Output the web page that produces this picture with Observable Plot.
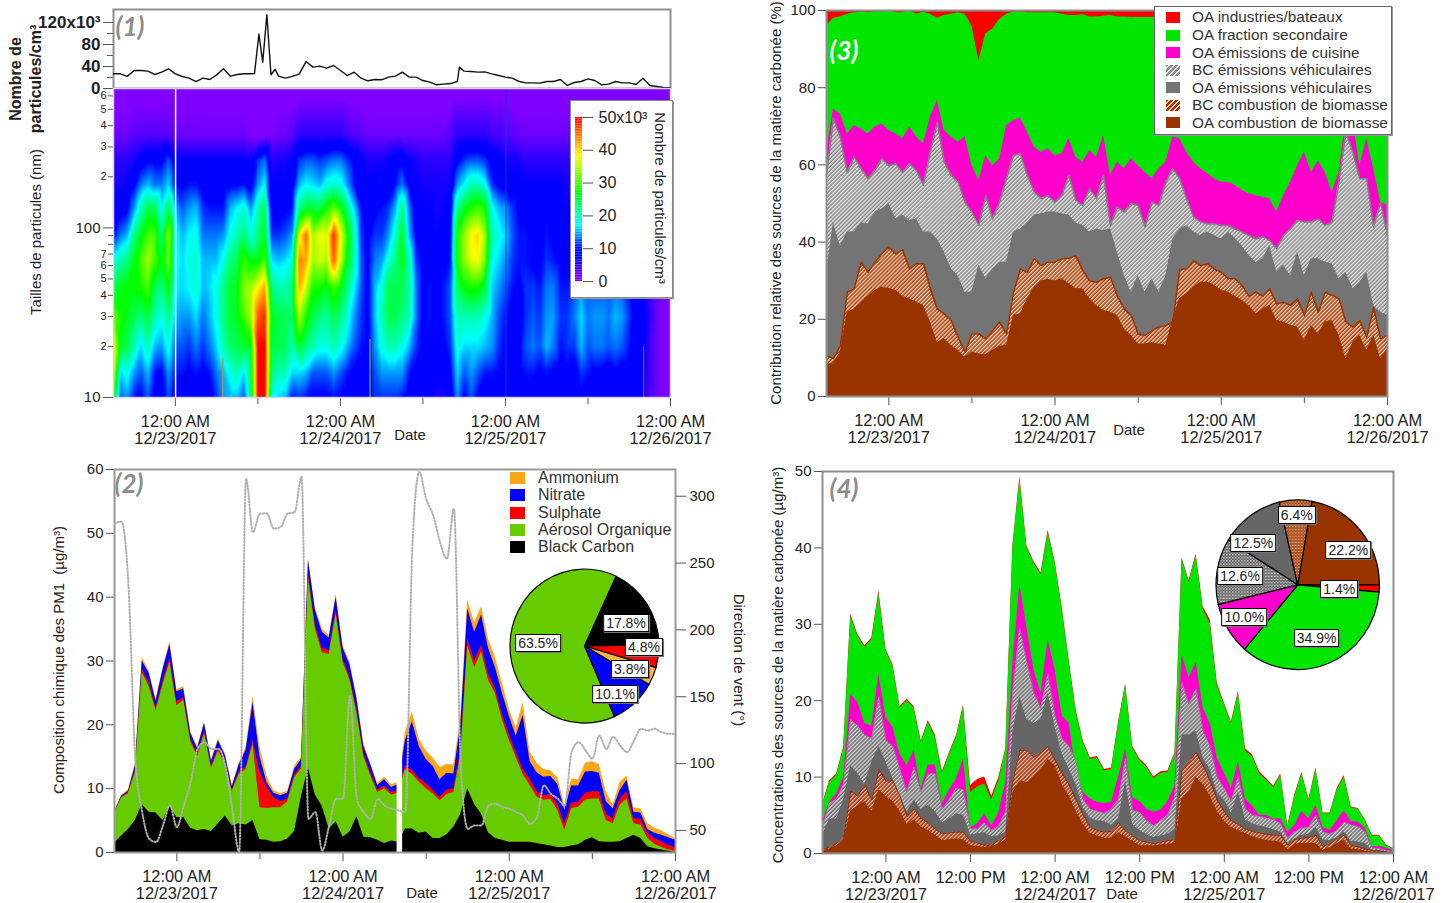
<!DOCTYPE html>
<html lang="fr"><head><meta charset="utf-8">
<script src="https://cdn.jsdelivr.net/npm/d3@7"></script>
<script src="https://cdn.jsdelivr.net/npm/@observablehq/plot@0.6"></script>
<style>
html,body{margin:0;padding:0;background:#fff;overflow:hidden}
#page{position:relative;width:1442px;height:903px;overflow:hidden;background:#fff;font-family:"Liberation Sans",Arial,sans-serif}
#page svg{position:absolute;max-width:none;overflow:visible}
.t{position:absolute;white-space:pre;line-height:1;transform-origin:center}
.box{position:absolute;background:#fff;border:1px solid #000;box-shadow:1px 1px 0 #777;padding:1px 2px;font-size:14px;line-height:1;color:#222;transform:translate(-50%,-50%)}
.sw{position:absolute}
</style></head><body><div id="page">
<svg width="0" height="0"><defs>
<pattern id="hGray" patternUnits="userSpaceOnUse" width="2.8" height="2.8" patternTransform="rotate(-45)"><rect width="3" height="3" fill="#808080"/><rect width="3" height="1.3" fill="#f4f4f4"/></pattern>
<pattern id="hBrown" patternUnits="userSpaceOnUse" width="2.8" height="2.8" patternTransform="rotate(-45)"><rect width="3" height="3" fill="#a03a08"/><rect width="3" height="1.3" fill="#f8dcc6"/></pattern>
<pattern id="hGray4" patternUnits="userSpaceOnUse" width="2.8" height="2.8" patternTransform="rotate(-45)"><rect width="3" height="3" fill="#6a6a6a"/><rect width="3" height="1.2" fill="#e6e6e6"/></pattern>
<pattern id="hBrown4" patternUnits="userSpaceOnUse" width="2.8" height="2.8" patternTransform="rotate(-45)"><rect width="3" height="3" fill="#993300"/><rect width="3" height="1.2" fill="#f0c4c0"/></pattern>
<pattern id="dGray" patternUnits="userSpaceOnUse" width="3" height="3"><rect width="3" height="3" fill="#5a5a5a"/><circle cx="1" cy="1" r=".8" fill="#fff"/><circle cx="2.5" cy="2.5" r=".5" fill="#ddd"/></pattern>
<pattern id="dBrown" patternUnits="userSpaceOnUse" width="3" height="3"><rect width="3" height="3" fill="#a8420c"/><circle cx="1" cy="1" r=".7" fill="#fff"/><circle cx="2.5" cy="2.5" r=".4" fill="#f2d0b0"/></pattern>
</defs></svg>
</div>
<script>
// ---------- time base: hours since 12/22/2017 15:00 ----------
const HOUR_COUNT = 82;
const startMs = Date.UTC(2017, 11, 22, 15);
const midnights = [9, 33, 57, 81];
const noons = [21, 45, 69];
const midLabels = {9:"12/23/2017", 33:"12/24/2017", 57:"12/25/2017", 81:"12/26/2017"};

// ---------- panel 1: total number (x10^3 /cm3) ----------
const p1Hours = [0,1,2,3,4,5,6,7,8,9,10,11,12,13,14,15,16,17,18,19,20,20.5,21.15,21.7,22.3,22.9,23.5,24,25,26,27,28,29,30,31,32,33,34,35,36,37,38,39,40,41,42,43,44,45,46,47,48,49,50,50.3,51,52,53,54,55,56,57,58,59,60,61,62,63,64,65,66,67,68,69,70,71,72,73,74,75,76,77,78,79,80,81];
const p1Number = [26.7,26.7,22,32.7,32.7,31.5,25.5,29.7,35.8,26.7,21.8,18.8,12.7,18.8,16.4,24.8,35.8,22.4,25.5,26.7,26.7,27,99,48,134,25,35,22.4,18.8,22,26,49,38.8,40.6,37,41.8,32.7,23.6,29.7,18.8,14,16.4,15.8,20.6,22.4,29.7,20.6,20.6,14.5,11.5,6.7,7.9,9,12.7,38.8,31.5,31,29.7,30.3,26.7,23.6,20.6,18.8,12.7,10.3,10.3,9.7,12.7,12.7,16.4,5.5,10.9,12.7,17.6,14.5,6.7,7.9,12.7,10.3,10.3,7.3,18.8,5.5,3.6,1.8,1.2];

// ---------- panel 1: size distribution, one array per particle size (x10^3 /cm3) ----------
const heatSizes = [10,14,20,30,45,65,90,130,180,250,350,663];
const heat10  = [28,12,14,10,9,12,8,8,12,8, 8,8,8,7,8,11,14,15,15,12, 22,50,50,18,16,15,10,11,10,9, 9,9,10,9,8,8,8,8,11,11, 11,11,10,8,7,7,7,6,6,7, 14,9,12,9,8,8,8,8,7,8, 8,8,7,8,7,7,7,7,9,8, 8,7,7,7,7,7,7,7,3,2, 1,1];
const heat14  = [36,16,18,14,12,15,10,9,14,10, 10,9,10,9,10,13,15,18,20,16, 24,50,50,22,20,20,16,16,15,12, 12,12,14,12,10,9,9,8,12,14, 14,14,14,10,9,8,8,7,7,9, 16,12,14,12,10,10,9,9,8,9, 10,10,9,10,9,8,9,8,11,10, 9,9,8,9,8,8,7,7,4,2, 1,1];
const heat20  = [38,26,24,20,16,20,15,14,18,12, 12,11,13,11,13,16,20,23,24,25, 26,50,50,24,24,24,20,25,22,20, 18,18,20,18,15,12,10,9,14,18, 20,20,18,15,11,9,9,8,9,11, 18,16,16,16,15,14,11,9,9,9, 12,13,12,15,13,10,11,11,15,12, 13,13,12,13,12,10,8,8,4,2, 1,1];
const heat30  = [32,28,26,24,22,25,20,18,22,15, 14,14,16,13,15,18,22,25,26,30, 34,46,48,26,24,24,23,34,28,24, 22,21,24,22,18,14,11,9,15,20, 24,24,22,20,13,9,10,9,10,12, 20,20,20,20,18,15,12,10,9,8, 11,12,11,14,14,11,11,13,16,13, 14,14,13,15,14,11,8,8,5,2, 1,1];
const heat45  = [24,26,27,27,28,30,24,22,27,17, 16,17,19,15,16,18,22,25,26,33, 34,38,42,22,20,20,22,42,36,28, 28,26,30,27,22,17,12,9,15,18, 24,24,24,21,13,9,10,9,10,12, 24,27,28,28,25,16,14,12,10,9, 11,11,10,13,13,10,10,12,14,12, 12,12,12,13,12,10,8,7,4,2, 1,1];
const heat65  = [18,20,22,26,30,34,30,26,32,18, 16,18,19,15,15,15,18,22,24,29, 26,26,30,16,15,16,18,44,42,34, 36,34,46,36,26,20,12,9,13,14, 18,22,27,20,11,9,9,8,9,10, 28,33,37,38,32,18,16,14,11,10, 10,9,9,11,10,9,9,9,10,9, 10,9,9,9,9,8,7,7,4,2, 1,1];
const heat90  = [10,13,15,22,26,30,30,22,34,18, 15,17,18,13,13,13,14,18,20,23, 18,22,26,11,11,12,14,38,45,34, 38,36,48,38,28,20,11,9,11,11, 14,19,26,15,9,8,8,7,8,9, 28,33,38,40,34,20,18,16,12,10, 10,9,9,10,9,8,8,8,8,8, 8,7,7,7,7,7,6,6,4,2, 1,1];
const heat130 = [7,8,9,14,20,24,24,17,24,15, 12,14,15,11,10,10,10,15,17,19, 14,20,24,8,8,9,10,22,25,25, 24,28,32,28,22,16,10,8,9,10, 11,15,22,13,8,7,7,6,7,8, 22,26,28,30,28,18,15,14,11,9, 8,8,8,9,8,7,7,7,7,7, 7,7,6,6,6,6,5,5,3,2, 1,1];
const heat180 = [6,6,7,9,13,15,13,13,16,10, 9,10,10,8,8,8,8,9,9,10, 8,14,17,7,7,7,8,15,17,16, 15,18,19,18,14,10,8,7,8,8, 8,10,13,9,7,6,6,6,6,6, 14,17,20,20,18,11,9,8,8,8, 7,7,7,7,7,7,6,6,6,6, 6,6,6,6,6,5,5,4,2,1, 1,0.5];
const heat250 = [5,5,5,6,8,9,9,9,12,8, 7,7,7,7,7,7,7,7,7,7, 7,11,13,5,6,6,7,11,12,12, 11,12,13,13,11,9,7,6,6,6, 7,8,9,7,6,5,5,5,5,5, 9,11,12,12,11,9,8,6,6,6, 5,5,5,5,5,5,5,5,5,5, 5,5,4,4,4,4,3,3,2,1, 0.5,0.5];
const heat350 = [2,2,2,3,3,3,3,3,3,2, 2,2,2,2,2,2,2,2,2,2, 1,0.5,0.5,1,2,2,3,5,5,5, 5,5,5,5,4,3,3,2,2,2, 2,2,2,2,2,2,2,2,2,3, 5,5,5,5,5,4,4,3,3,2, 2,2,2,2,2,2,2,2,2,2, 2,2,2,2,1,1,1,1,1,0, 0,0];
const heat663 = [0,0,0,0,0,0,0,0,0,0, 0,0,0,0,0,0,0,0,0,0, 0,0,0,0,0,0,0,0,0,0, 0,0,0,0,0,0,0,0,0,0, 0,0,0,0,0,0,0,0,0,0, 0,0,0,0,0,0,0,0,0,0, 0,0,0,0,0,0,0,0,0,0, 0,0,0,0,0,0,0,0,0,0, 0,0];
const heatRows = [heat10,heat14,heat20,heat30,heat45,heat65,heat90,heat130,heat180,heat250,heat350,heat663];
const missingHour = [9.03];
const blueLineHour = [57.07];
const streakHour = [15.9,37.3,77.1];
const streakTopSize = [17,22,20];
const streakColor = ["#d98a20","#70b040","#c04030"];
const rainbowStops = [0,1,7,9.5,17,27,38,50];
const rainbowColors = ["#8000ff","#8000ff","#0000ff","#0000ff","#00ffff","#00ff00","#ffff00","#ff0000"];
const heatMajorTicks = [10,100];
const heatMinorTicks = [20,30,40,50,60,70,200,300,400,500,600];
const heatBareTicks = [80,90];

// ---------- panel 2: composition, upper edge of each stacked layer (ug/m3) ----------
const p2Ammonium = [6.3,8.9,9.8,14,30.5,28.5,24,29,33,25.5, 26,19,16.5,20.5,14.5,17.8,15.5,10.5,14,16.5, 24.5,16.5,12,9.7,9.2,9.6,13.5,15,46,38.4, 35,34,40.5,32.5,29.8,24.5,17,14,10.8,11.8, 10.6,11,18.8,22,17.8,15.9,14.8,13.3,13.8,13.7, 21,39.5,36,38.5,33.5,30.5,26.5,22.5,19.5,23.5, 15.8,14,13,12.8,11.7,7.5,11.5,11.4,14,14.2, 13.8,9.5,7.4,11,12,7,6.8,4.5,3.8,3.4, 2.8,2.1];
const p2Nitrate  = [6.25,8.8,9.6,13.5,30,28.1,23.7,28.6,32.6,25.2, 25.6,18.7,16.3,20.2,14.3,17.5,15.2,10.3,13.7,16, 23.5,15,11,9.3,8.9,9.3,13,14.6,45.8,38, 34.5,33.6,40,32,29.4,24.1,16.6,13.7,10.5,11.4, 10.2,10.6,17.5,20.5,16.6,14.6,13.5,11.4,12.4,12.3, 20,38.2,34.5,37.2,32,29,25,21.4,18.2,21.5, 14.3,12.5,11.8,11.9,10.7,6.6,10.4,10.4,12.6,12.7, 12.4,8,6.8,9.7,11.3,6.3,6.2,3.6,3,2.7, 2.3,1.9];
const p2Sulphate = [6.2,8.6,9.4,12.7,28.7,26.6,22.6,26.8,30.4,23.6, 24.3,17.8,15.4,19,13.5,16.3,14.2,9.8,12.6,13.4, 17.6,12.6,10.3,8.6,8,8.4,12.1,13.5,43.6,35.7, 32,31.6,38,30.3,27.5,22.3,15.5,12.5,9.8,10.4, 9.4,9.7,13.6,12.8,11.6,10.8,9.8,8.6,9.8,10, 16,33.5,30,32.5,28,25.7,21.7,18.5,15.7,13, 11.5,9.5,8.9,9.1,7.6,4.5,7.7,7.9,9.3,9.5, 9.5,6,5.3,8.4,9.5,5.3,5.2,3,2.2,1.7, 1.1,0.8];
const p2Organic  = [6.1,8.5,9.2,12.5,28.2,26,22.2,26.2,29.8,23, 23.8,17.4,15,18.6,13.2,15.9,13.9,9.6,12.2,13, 16.9,7,6.9,7,7,7.9,11.7,13.1,43,35, 31.3,31,37.4,29.8,27,21.8,15,12,9.4,10, 9,9.3,13,12.2,11,10,9.2,8.1,9.1,9.4, 15.2,32.4,29,31.4,27,24.9,20.8,17.6,14.9,12.2, 10.5,8.7,8.2,8.3,6.6,3.5,6.9,7.1,8.2,8.4, 8.4,5,4.5,7.4,8.4,4.5,4.3,2.2,1.3,0.8, 0.4,0.2];
const p2Black    = [1.4,2.6,3.6,5,7.5,6.3,6.2,5,7.3,5.5, 5.5,3.8,3.4,3.6,3.3,4.5,5.7,4.2,4.5,4.3, 5,2,1.9,1.6,1.7,2.1,3.3,8.8,13.2,9, 7.2,3.7,4.8,2.4,3.2,5.6,2.4,2.3,1.9,1.4, 1.8,1.6,3.7,3.7,3,3.2,2.2,2.2,2.8,4, 6,10,7.5,6,3.1,2.2,1.9,1.6,1.6,1.6, 1.6,1.4,1.2,1,0.8,0.8,1,1.2,1.9,2.3, 1.7,1.6,1.6,1.7,2.2,2.7,2.2,0.9,0.6,0.4, 0.2,0.05];
const p2Wind     = [279.5,281,235,103.6,63.7,43.8,41.3,53.7,68.7,52.5, 68.7,86,111,116,111,111,98.7,66.2,33.8,313, 273,287,287,275.8,277,287,288,314.5,58.7,63.7, 35,53.7,73.7,73.7,151,73.7,63.7,58.7,73.7,68.7, 66.2,65,63.7,260.8,318,298,285.8,265.8,253.3,290.8, 98.7,51.2,53.7,53.7,68.7,70,67.5,66.2,63.7,61.2, 55,60,83.7,77.4,73.7,68.7,108.6,116,110,103.6, 121,111,120,113.6,108.6,117,126,124.8,126,123.6, 122.3,122.3];
const p2Gap = [40.8, 41.6];
const p2PieValues = [17.8,4.8,3.8,10.1,63.5];
const p2PieColors = ["#000000","#ff0000","#ffb347","#0000ff","#66cc00"];
const p2Legend = ["Ammonium","Nitrate","Sulphate","Aérosol Organique","Black Carbon"];
const p2LegendColors = ["#ffa614","#0000ff","#ff0000","#66cc00","#000000"];

// ---------- panel 3: relative contribution, upper edge of each layer (%) ----------
const p3OaBiomass = [8.5,8.5,11.5,21.8,22.7,24.4,26,27.5,28.3,28, 27.5,26,25.3,24.4,23.6,19.3,14,15,13.2,12, 10.2,11.5,11,10.8,12,13,13.2,21,21.4,25.3, 28.3,30,30.3,30,30.5,29.2,28,27.9,25.3,23.6, 22.3,21.8,21,17.5,15.8,13.6,13.6,14,13.6,13.2, 20,25.3,26.6,28.3,29.6,29.6,28.8,27.5,27,26, 24.9,23.6,21.4,22.7,23.6,19.7,19.3,18.4,18,14.5, 18.4,16.2,19.3,19.7,15.8,9.8,14,15.8,12,16, 9.8,12.4];
const p3BcBiomass = [10.6,9.8,13.2,27,27.9,34.8,32.2,34.8,37,38.7, 37,38,33,34.4,34.4,28,22.7,21.4,19.7,15.4, 11.5,16.2,16.2,14.9,17.1,19.3,16.2,27,33,32.2, 35.7,33.9,34.8,34.8,35.7,35.8,36.5,32.6,30,29.6, 30.5,30.9,26,22.7,21,16.2,15.8,17.1,18,18.4, 19.3,33,33,35.2,33.9,34.4,33,32.2,30.5,30.5, 28.8,26,27,26,27.9,24,24.4,23.6,25.3,21, 27,21.8,27,26.2,25.3,19.3,18,19.7,15.4,23, 15,15.8];
const p3OaVehicle = [32,45,39,42.6,42.6,45,44.7,47.8,48.6,50, 46,47,45.6,46,42.6,42.6,40.8,37.4,33,31.3, 27,27,34,30.5,33,34.8,34.8,42.6,43.4,45, 47,47.3,47.8,47.8,47.3,47,45,44.3,42.6,43.4, 43,43.4,37.4,31.3,27,31.3,27,30.5,27,31.3, 40.8,43.4,44.3,42.6,41.7,42.6,41.7,40.8,42.6,41, 39,36.5,34.8,35.7,39,32.2,34,31.3,37.4,31.3, 35.7,35.7,34.8,34.4,30.5,32.2,27.9,29.6,32.2,23.6, 21.8,21];
const p3BcVehicle = [57.3,72,67.2,58,62,59,56.4,58.5,61.6,59.8, 60.3,58,60.3,58.5,54.7,63.3,71,60.7,57.3,55.5, 50.3,47.8,44.3,52,46,50.3,56.4,62.4,62.9,57.3, 52.9,51.2,52,50.3,52,57.3,50.8,49.5,53.8,51.2, 57.3,44.3,49,47.8,50,49.5,43.9,50.3,49.5,55.5, 59,56.4,51.2,46.5,45.2,44.7,44.7,44.3,44.3,43.4, 42.6,41.7,40.8,41.3,40.4,38.3,41.7,43.4,45.6,45.2, 45.2,46,44.3,45.2,55.5,68.5,63.3,56.4,56.4,43.9, 50.3,41.7];
const p3Cooking   = [63.3,74.5,73.2,68,70.2,69.3,68,69.8,70.6,68.9, 68,66.8,69.8,67.2,65.5,72.4,76.7,68.9,67.2,65.9, 67.2,59.8,56,62.4,59.8,61.6,70.2,71.5,72.1,68.5, 64.6,63.3,64.2,62.4,62.9,66.8,62,60.7,63.7,62, 67.6,57.3,60.7,59,61.6,59.8,58,56.4,59,60.7, 67.2,66.8,63.3,60.7,59,57.7,56.4,55.5,55.5,54.7, 53.4,52.5,52,51.6,51.2,47.8,52,55.5,59.8,63.3, 58,61.1,58,52.9,58,71.9,71.5,59.8,66.8,59, 50.3,49.5];
const p3Secondary = [96,98,98.3,99,99.4,99.6,99.4,99.7,99.7,100, 99.4,99.4,100,99,99.6,99,98,98.7,99,99.4, 99,96,87,94,95.2,97.7,99,99.6,99.6,99.4, 99.4,99.4,99.4,99.4,99,98.7,98.7,98.9,98.3,98.3, 98.5,98.7,98.3,98.3,98.2,98.2,98.2,98.2,98.3,98.4, 98.4,98.5,98.5,98.5,98.5,98.5,98.5,98.5,98.5,98.5, 98.5,98.5,98.5,98.5,98.5,98.5,98.5,98.5,98.5,98.5, 98.5,98.5,98.5,98.5,98.5,98.5,98.5,98.5,98.5,98.5, 98.5,98.5];
const p3Legend = ["OA industries/bateaux","OA fraction secondaire","OA émissions de cuisine","BC émissions véhiculaires","OA émissions véhiculaires","BC combustion de biomasse","OA combustion de biomasse"];

// ---------- panel 4: concentrations, upper edge of each layer (ug/m3) ----------
const p4OaBiomass = [.4,.6,1,1.7,5.6,6.2,6.8,5.5,8.3,7.5, 6.8,5.5,3.8,4.4,3.5,3,2.4,1.7,1.8,1.9, 1.8,1,.9,.8,.9,1.2,1.8,8,9.5,9.3, 10,11,12.3,11.5,9,7.5,5.5,3.8,2.6,2.3, 2,2,2.7,2.2,1.6,1,1,1,1.1,1.2, 1.3,7.2,8,10,9,7.5,5.5,4.2,3.4,3, 2.6,2.2,1.9,1.7,1.6,1.5,.5,1.2,1.3,1.3, 1.3,.4,.8,1.3,1.7,.6,.5,.3,.2,.2, .1,.05];
const p4BcBiomass = [.6,.8,1.3,2,8.2,7.5,9,7,11,9.5, 9.5,7.5,4.8,5.8,4.6,4,3.2,2.6,2.7,2.8, 2.8,1.6,1.4,1.1,1.1,1.7,2.3,9.5,13.5,13.5, 12.6,13.2,14,12.2,10.5,9,7,5,3.4,3, 2.8,2.9,4,3,2.3,1.7,1.5,1.3,1.5,1.7, 1.8,11,12,13.2,11.5,9.5,7,5.5,4.3,3.8, 3.2,2.9,2.7,2.5,2.4,2.4,1.1,1.8,2,2.1, 2.4,.9,1.3,1.9,2.4,1,.9,.6,.4,.3, .2,.1];
const p4OaVehicle = [2.4,4.5,4.5,7,11.5,10.5,9,12,14,12, 9.8,7,5.5,7,5.8,6.3,5.5,4,4.5,5.2, 5,2.4,2.6,2.7,2.2,2.3,2.8,16,20.5,17.5, 17,17.5,21,16.5,13,11,9,6,4.6,4.3, 4.2,3.7,4.5,9.5,3.8,3,2.5,2.1,2.3,2.5, 3.2,15.5,15.5,16,12.5,11,8,7,5.3,8, 4.4,3.9,3.6,3.4,3.1,2.8,1.3,1.9,2.4,2.5, 3.4,1.8,1.7,2.1,2.8,1.6,1.5,1.3,.4,.4, .2,.1];
const p4BcVehicle = [3.4,6.5,7.1,9,17.5,16.7,15.5,15,20.5,14.8, 14,11,8,11.3,8,10.4,10.4,5.8,7,8.5, 8.3,3.2,3.2,4,3,3.5,5.5,21,29.5,25, 21,19,23.5,18,15,14,12,7,5.8,5.5, 5.2,5.8,7,12.4,5.6,5.4,4.3,3.6,4.3,5, 7.4,22.4,19.5,21.5,16,14,10,8.5,6.8,10, 5.8,5,4.8,4.6,4.4,3.9,2,2.8,3.3,3.4, 5,2.8,2.5,3,4.1,3.7,3.5,2.8,.7,.6, .4,.2];
const p4Cooking   = [4.1,6.7,7.8,10,20.8,19.8,17,16.7,23.5,17.8, 16.5,13,11.5,13.5,8.5,11.6,11.6,6.5,8.3,9.8, 12.4,3.4,3.9,5.2,3.6,5.3,9.3,25,35.3,29.5, 24,21,28,24,18,17,10.6,8,7.1,6.7, 6.5,6.7,10,13.7,7.3,6.8,5.8,5.4,5.7,6.8, 8.9,26,23,25,19,17,12.5,10.5,8.5,12, 7.1,6.2,5,5,4.5,4.5,2.8,3.7,5.5,4.5, 6.3,3.4,3,4.3,5.6,4.2,4.1,3.3,.9,.9, .7,.4];
const p4Secondary = [6.3,9.3,10.2,13.7,31,28.5,27,28,34,26.5, 24.5,19,20,19,14.5,17.2,15.2,10.5,13,15.2, 19.2,8,8.7,9.1,7,9.5,13.5,40,49,40, 38,36.5,42,38,32,25,18.5,14.5,12.3,12.5, 10.8,11,17,22,13.8,12.2,11.3,9.8,10.5,10.6, 13,38.5,35.5,39,32,30,22,19.5,17,21, 13.4,12.7,10.4,9.6,8.6,10.2,3.5,7.5,10.4,7, 11,5.2,5.2,8.3,10,6,5.8,4.3,2.3,2.3, 1,.6];
const p4Industry  = [6.4,9.5,10.4,13.9,31.3,28.7,27.2,28.2,34.4,26.7, 24.7,19.2,20.2,19.2,14.7,17.4,15.5,10.7,13.2,15.4, 19.4,8.9,9.7,10,7.5,9.9,13.7,40.2,49.3,40.2, 38.2,36.7,42.3,38.2,32.2,25.2,18.7,14.7,12.5,12.7, 11,11.2,17.2,22.2,14,12.4,11.5,10,10.7,10.8, 13.2,38.7,35.7,39.2,32.3,30.6,22.3,19.7,17.2,21.2, 13.7,12.9,10.7,9.8,8.8,10.4,3.6,7.7,10.6,7.1, 11.2,5.3,5.3,8.5,10.2,6.1,5.9,4.4,2.4,2.4, 1.1,.65];
const p4PieValues = [22.2,1.4,34.9,10,12.6,12.5,6.4];
const p4PieColors = ["#993300","#ff0000","#00e600","#ff00cc","url(#dGray)","#666666","url(#dBrown)"];

// ---------- helpers ----------
const page = document.getElementById("page");
const FONT = '"Liberation Sans", Arial, sans-serif';
const D = h => new Date(startMs + h * 3600000);
const hours = d3.range(HOUR_COUNT);
const dates = hours.map(D);
const xScale = {type:"utc", domain:[D(0), D(81)]};
const INK = "#222", AXIS = "#555", FRAME = "#8f8f8f", TAG = "#8c8c8c";
const ML = 70, MR = 70, MT = 6, MB = 60;

function panel(left, top, w, h, opts) {
  const svg = Plot.plot({
    width: w + ML + MR, height: h + MT + MB,
    marginLeft: ML, marginRight: MR, marginTop: MT, marginBottom: MB,
    style: {background:"transparent", fontFamily:FONT, overflow:"visible"},
    ...opts
  });
  svg.style.position = "absolute";
  svg.style.left = (left - ML) + "px";
  svg.style.top = (top - MT) + "px";
  page.appendChild(svg);
  return svg;
}
function T(text, x, y, o = {}) {
  const e = document.createElement("div");
  e.className = "t";
  e.textContent = text;
  e.style.left = x + "px"; e.style.top = y + "px";
  e.style.fontSize = (o.size || 15) + "px";
  e.style.fontWeight = o.weight || 400;
  e.style.fontStyle = o.italic ? "italic" : "normal";
  e.style.color = o.color || INK;
  e.style.fontFamily = o.font || FONT;
  const ax = o.left ? "0" : "-50%";
  e.style.transform = `translate(${ax},-50%) rotate(${o.rot || 0}deg)`;
  page.appendChild(e);
}
function swatch(x, y, w, h, bg) {
  const e = document.createElement("div");
  e.className = "sw";
  e.style.cssText = `left:${x}px;top:${y}px;width:${w}px;height:${h}px;background:${bg}`;
  page.appendChild(e);
}
const dateAxes = (labelNoons) => {
  const fmt = h => h in midLabels ? `12:00 AM\n${midLabels[h]}` : "12:00 PM";
  const labelled = labelNoons ? d3.sort([...midnights, ...noons]) : midnights;
  return [
    Plot.axisX(labelled.map(D), {tickSize:9, tickPadding:9, fontSize:16.4, lineHeight:1.02, stroke:AXIS, fill:INK, label:null,
      tickFormat: d => fmt(Math.round((d - startMs) / 3600000))}),
    labelNoons ? null : Plot.axisX(noons.map(D), {tickSize:7, stroke:AXIS, label:null, tickFormat: () => ""})
  ];
};
const frame = (c = FRAME, s = 2) => Plot.frame({stroke:c, strokeWidth:s});
const band = (top, fill) => Plot.areaY(hours, {x:dates, y1:0, y2:top, fill});
const pct = v => v.toFixed(1) + "%";

function pie(vals, colors, startDeg, cx, cy, rx, ry) {
  const svg = Plot.plot({
    width:2*rx+4, height:2*ry+4, margin:0,
    x:{axis:null, domain:[0,1]}, y:{axis:null, domain:[0,1]},
    style:{background:"transparent"},
    marks:[() => {
      const g = d3.create("svg:g").attr("transform", `translate(${rx+2},${ry+2}) scale(1,${ry/rx})`);
      const s = startDeg * Math.PI / 180;
      const arcs = d3.pie().sort(null).startAngle(s).endAngle(s + 2*Math.PI)(vals);
      const arc = d3.arc().innerRadius(0).outerRadius(rx);
      arcs.forEach((a, i) => g.append("path").attr("d", arc(a)).attr("fill", colors[i])
        .attr("stroke", "#000").attr("stroke-width", 1.2));
      return g.node();
    }]
  });
  svg.style.position = "absolute";
  svg.style.left = (cx - rx - 2) + "px";
  svg.style.top = (cy - ry - 2) + "px";
  page.appendChild(svg);
}
function pieLabel(text, x, y) {
  const e = document.createElement("div");
  e.className = "box"; e.textContent = text;
  e.style.left = x + "px"; e.style.top = y + "px";
  page.appendChild(e);
}

// ---------- panel (1) number line ----------
panel(113, 9, 557, 79, {
  x:{...xScale, axis:null},
  y:{domain:[0,143.6]},
  marks:[
    Plot.axisY([0,40,80,120], {tickSize:10, tickPadding:3, fontSize:17, fontWeight:700, stroke:AXIS, fill:INK, label:null,
      tickFormat: d => d === 120 ? "120x10³" : d}),
    Plot.axisY([20,60,100], {tickSize:6, stroke:AXIS, label:null, tickFormat: () => ""}),
    frame(),
    Plot.line(p1Hours, {x:p1Hours.map(D), y:p1Number, stroke:"#111", strokeWidth:1.4})
  ]
});

// ---------- panel (1) size distribution ----------
const heatPoints = heatSizes.flatMap((s, r) => heatRows[r].map((v, h) => ({t:D(h), s, v})));
const heatColor = {type:"linear", domain:rainbowStops, range:rainbowColors, clamp:true};
const heatFirst = D(0);
panel(113, 88, 557, 309, {
  x:xScale,
  y:{type:"log", domain:[10,663]},
  color:heatColor,
  marks:[
    Plot.raster(heatPoints, {x:"t", y:"s", fill:"v", interpolate:"barycentric"}),
    Plot.ruleX(streakHour.map(D), {y1:10, y2:(d,i) => streakTopSize[i], stroke:(d,i) => streakColor[i], strokeWidth:1.2}),
    Plot.ruleX(missingHour.map(D), {stroke:"#fff", strokeWidth:1.5}),
    Plot.ruleX(blueLineHour.map(D), {stroke:"#0a3cd8", strokeWidth:1}),
    Plot.axisY(heatMajorTicks, {tickSize:10, tickPadding:3, fontSize:15, stroke:AXIS, fill:INK, label:null}),
    Plot.ruleY([...heatMinorTicks, ...heatBareTicks], {x1:heatFirst, x2:heatFirst, insetLeft:-5, stroke:AXIS}),
    Plot.text(heatMinorTicks, {x:heatFirst, y:d => d, text:d => String(d)[0], dx:-7, textAnchor:"end", fontSize:11, fill:INK}),
    ...dateAxes(false),
    frame("#d9d2e8", 1.5)
  ].filter(Boolean)
});
T("Nombre de", 16, 79, {rot:-90, weight:700, size:16});
T("particules/cm³", 36, 79, {rot:-90, weight:700, size:16});
T("Tailles de particules (nm)", 35, 232, {rot:-90});
T("Date", 410, 434);
T("(1)", 130, 26, {size:26, weight:700, italic:true, color:TAG, font:"Lato"});
// colour legend
const cbBox = document.createElement("div");
cbBox.style.cssText = "position:absolute;left:570px;top:100px;width:101px;height:196px;background:#fff;border:1px solid #888;box-shadow:1px 1px 0 #999";
page.appendChild(cbBox);
const cbLevels = d3.range(0, 50, 0.5);
panel(575, 117, 7, 164, {
  x:{axis:null, domain:[0,1]},
  y:{domain:[0,50]},
  color:heatColor,
  marks:[
    Plot.rect(cbLevels, {x1:0, x2:1, y1:d => d, y2:d => d + 0.5, fill:d => d}),
    Plot.axisY([0,10,20,30,40,50], {anchor:"right", tickSize:10, tickPadding:6, fontSize:16, stroke:AXIS, fill:INK, label:null,
      tickFormat: d => d === 50 ? "50x10³" : d})
  ]
});
T("Nombre de particules/cm³", 660, 198, {rot:90, size:15});

// ---------- panel (2) ----------
panel(114, 469, 561, 383, {
  x:xScale,
  y:{domain:[0,60]},
  marks:[
    band(p2Ammonium, p2LegendColors[0]),
    band(p2Nitrate, p2LegendColors[1]),
    band(p2Sulphate, p2LegendColors[2]),
    band(p2Organic, p2LegendColors[3]),
    band(p2Black, p2LegendColors[4]),
    Plot.rectY([p2Gap], {x1:d => D(d[0]), x2:d => D(d[1]), y1:0, y2:60, fill:"#fff"}),
    Plot.axisY([0,10,20,30,40,50,60], {tickSize:8, tickPadding:3, fontSize:15, stroke:AXIS, fill:INK, label:null}),
    ...dateAxes(false),
    frame("#999", 2)
  ].filter(Boolean)
});
panel(114, 469, 561, 383, {
  x:{...xScale, axis:null},
  y:{domain:[33.5,320]},
  marks:[
    Plot.line(hours, {x:dates, y:p2Wind, stroke:"#b0b0b0", strokeWidth:2, strokeDasharray:"1.2 2", curve:"monotone-x", clip:true}),
    Plot.axisY([50,100,150,200,250,300], {anchor:"right", tickSize:10, tickPadding:4, fontSize:15, stroke:AXIS, fill:INK, label:null})
  ]
});
T("Composition chimique des PM1  (µg/m³)", 58, 660, {rot:-90});
T("Direction de vent (°)", 739, 660, {rot:90});
T("Date", 422, 892);
T("(2)", 129, 483, {size:26, weight:700, italic:true, color:TAG, font:"Lato"});
p2Legend.forEach((n, i) => {
  const y = [478,495,513,530,547][i];
  swatch(510, y - 6, 15, 12, p2LegendColors[i]);
  T(n, 538, y, {left:true, color:"#333", size:16});
});
pie(p2PieValues, p2PieColors, 25, 584.5, 646, 74.5, 77);
[[626,623],[644,647],[630,669],[615,693.5],[538,642.7]].forEach(([x,y], i) => pieLabel(pct(p2PieValues[i]), x, y));

// ---------- panel (3) ----------
panel(826, 10, 561, 386, {
  x:xScale,
  y:{domain:[0,100]},
  marks:[
    Plot.rectY([100], {x1:D(0), x2:D(81), y1:0, y2:100, fill:"#ff0000"}),
    band(p3Secondary, "#00e600"),
    band(p3Cooking, "#ff00cc"),
    band(p3BcVehicle, "url(#hGray)"),
    Plot.line(hours, {x:dates, y:p3BcVehicle, stroke:"#808080", strokeWidth:1.5}),
    band(p3OaVehicle, "#747474"),
    band(p3BcBiomass, "url(#hBrown)"),
    Plot.line(hours, {x:dates, y:p3BcBiomass, stroke:"#993300", strokeWidth:1.5}),
    band(p3OaBiomass, "#993300"),
    Plot.axisY([0,20,40,60,80,100], {tickSize:8, tickPadding:3, fontSize:15, stroke:AXIS, fill:INK, label:null}),
    ...dateAxes(false),
    frame()
  ].filter(Boolean)
});
T("Contribution relative des sources de la matière carbonée (%)", 775, 203, {rot:-90});
T("Date", 1129, 429);
T("(3)", 844, 50, {size:26, weight:700, italic:true, color:"#fff", font:"Lato"});
const lg3 = document.createElement("div");
lg3.style.cssText = "position:absolute;left:1154px;top:6px;width:236px;height:127px;background:#fff;border:1px solid #666;box-shadow:1px 1px 0 #999";
page.appendChild(lg3);
const hatchCss = (bg, fg) => `repeating-linear-gradient(135deg,${bg} 0 2px,${fg} 2px 3.5px)`;
const p3Swatches = ["#ff0000","#00e600","#ff00cc",hatchCss("#8a8a8a","#e8e8e8"),"#747474",hatchCss("#993300","#f3cfb5"),"#993300"];
p3Legend.forEach((n, i) => {
  const y = [17,35,52.5,70,87.5,105,122.5][i];
  swatch(1166, y - 5.5, 14, 11, p3Swatches[i]);
  T(n, 1192, y, {left:true, color:"#333", size:15.4});
});

// ---------- panel (4) ----------
panel(822, 471, 571, 382, {
  x:xScale,
  y:{domain:[0,50]},
  marks:[
    band(p4Industry, "#ff0000"),
    band(p4Secondary, "#00e600"),
    band(p4Cooking, "#ff00cc"),
    band(p4BcVehicle, "url(#hGray4)"),
    Plot.line(hours, {x:dates, y:p4BcVehicle, stroke:"#8a8a8a", strokeWidth:0.8}),
    band(p4OaVehicle, "#666666"),
    band(p4BcBiomass, "url(#hBrown4)"),
    Plot.line(hours, {x:dates, y:p4BcBiomass, stroke:"#7a2000", strokeWidth:0.8}),
    band(p4OaBiomass, "#993300"),
    Plot.axisY([0,10,20,30,40,50], {tickSize:8, tickPadding:3, fontSize:15, stroke:AXIS, fill:INK, label:null}),
    ...dateAxes(true),
    frame()
  ].filter(Boolean)
});
T("Concentrations des sources de la matière carbonée (µg/m³)", 777, 665, {rot:-90});
T("Date", 1122, 893);
T("(4)", 844, 488, {size:26, weight:700, italic:true, color:TAG, font:"Lato"});
pie(p4PieValues, p4PieColors, 10, 1297.5, 584.3, 81.7, 84.8);
[[1348.3,550],[1339.3,589.3],[1316.7,637.7],[1244.3,617.3],[1240,576],[1253.3,543.3],[1296.7,515]].forEach(([x,y], i) => pieLabel(pct(p4PieValues[i]), x, y));
</script></body></html>
